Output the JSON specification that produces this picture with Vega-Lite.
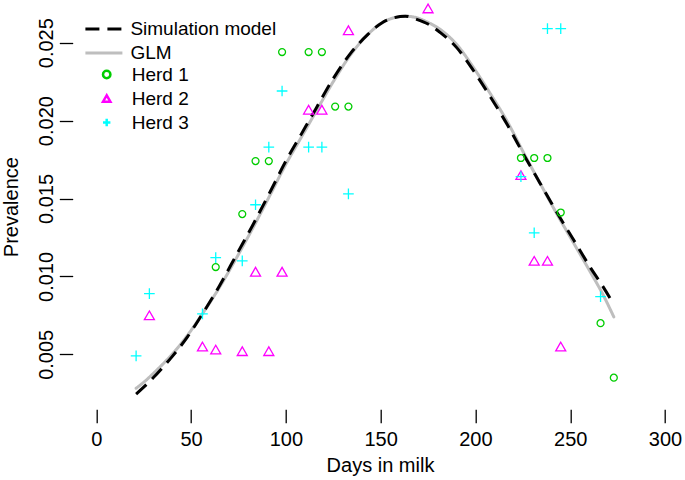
{
  "$schema": "https://vega.github.io/schema/vega-lite/v6.json",
  "width": 612.3,
  "height": 405.3,
  "autosize": {"type": "none"},
  "padding": {"left": 72.7, "top": 4, "right": 0, "bottom": 70.7},
  "background": "white",
  "config": {"view": {"stroke": null}, "font": "Liberation Sans"},
  "datasets": {
    "curves": [
      {"model": "GLM", "dim": 21, "prev": 0.00282},
      {"model": "GLM", "dim": 25, "prev": 0.0032},
      {"model": "GLM", "dim": 30, "prev": 0.00376},
      {"model": "GLM", "dim": 35, "prev": 0.00436},
      {"model": "GLM", "dim": 40, "prev": 0.005},
      {"model": "GLM", "dim": 48, "prev": 0.0062},
      {"model": "GLM", "dim": 56, "prev": 0.0076},
      {"model": "GLM", "dim": 65, "prev": 0.0093},
      {"model": "GLM", "dim": 74, "prev": 0.0112},
      {"model": "GLM", "dim": 83, "prev": 0.0132},
      {"model": "GLM", "dim": 92, "prev": 0.0153},
      {"model": "GLM", "dim": 100, "prev": 0.0172},
      {"model": "GLM", "dim": 108, "prev": 0.0189},
      {"model": "GLM", "dim": 116, "prev": 0.0206},
      {"model": "GLM", "dim": 125, "prev": 0.0225},
      {"model": "GLM", "dim": 134, "prev": 0.0242},
      {"model": "GLM", "dim": 143, "prev": 0.0255},
      {"model": "GLM", "dim": 151, "prev": 0.0263},
      {"model": "GLM", "dim": 157, "prev": 0.0266},
      {"model": "GLM", "dim": 163, "prev": 0.0267},
      {"model": "GLM", "dim": 169, "prev": 0.0266},
      {"model": "GLM", "dim": 175, "prev": 0.0263},
      {"model": "GLM", "dim": 182, "prev": 0.0258},
      {"model": "GLM", "dim": 190, "prev": 0.0249},
      {"model": "GLM", "dim": 199, "prev": 0.0234},
      {"model": "GLM", "dim": 208, "prev": 0.0217},
      {"model": "GLM", "dim": 217, "prev": 0.0199},
      {"model": "GLM", "dim": 226, "prev": 0.0178},
      {"model": "GLM", "dim": 234, "prev": 0.016},
      {"model": "GLM", "dim": 243, "prev": 0.014},
      {"model": "GLM", "dim": 252, "prev": 0.0121},
      {"model": "GLM", "dim": 261, "prev": 0.0102},
      {"model": "GLM", "dim": 267, "prev": 0.0089},
      {"model": "GLM", "dim": 273, "prev": 0.0074},
      {"model": "Simulation model", "dim": 21, "prev": 0.00245},
      {"model": "Simulation model", "dim": 25, "prev": 0.00289},
      {"model": "Simulation model", "dim": 30, "prev": 0.00349},
      {"model": "Simulation model", "dim": 35, "prev": 0.00415},
      {"model": "Simulation model", "dim": 40, "prev": 0.00485},
      {"model": "Simulation model", "dim": 48, "prev": 0.0061},
      {"model": "Simulation model", "dim": 56, "prev": 0.0076},
      {"model": "Simulation model", "dim": 65, "prev": 0.0094},
      {"model": "Simulation model", "dim": 74, "prev": 0.0114},
      {"model": "Simulation model", "dim": 83, "prev": 0.0134},
      {"model": "Simulation model", "dim": 92, "prev": 0.0155},
      {"model": "Simulation model", "dim": 100, "prev": 0.0174},
      {"model": "Simulation model", "dim": 108, "prev": 0.0191},
      {"model": "Simulation model", "dim": 116, "prev": 0.0208},
      {"model": "Simulation model", "dim": 125, "prev": 0.0227},
      {"model": "Simulation model", "dim": 134, "prev": 0.0243},
      {"model": "Simulation model", "dim": 143, "prev": 0.0255},
      {"model": "Simulation model", "dim": 151, "prev": 0.0263},
      {"model": "Simulation model", "dim": 157, "prev": 0.0266},
      {"model": "Simulation model", "dim": 163, "prev": 0.0267},
      {"model": "Simulation model", "dim": 169, "prev": 0.0265},
      {"model": "Simulation model", "dim": 175, "prev": 0.0262},
      {"model": "Simulation model", "dim": 182, "prev": 0.0256},
      {"model": "Simulation model", "dim": 190, "prev": 0.0247},
      {"model": "Simulation model", "dim": 199, "prev": 0.0232},
      {"model": "Simulation model", "dim": 208, "prev": 0.0215},
      {"model": "Simulation model", "dim": 217, "prev": 0.0197},
      {"model": "Simulation model", "dim": 226, "prev": 0.0177},
      {"model": "Simulation model", "dim": 234, "prev": 0.016},
      {"model": "Simulation model", "dim": 243, "prev": 0.0141},
      {"model": "Simulation model", "dim": 252, "prev": 0.0123},
      {"model": "Simulation model", "dim": 261, "prev": 0.0105},
      {"model": "Simulation model", "dim": 267, "prev": 0.0094},
      {"model": "Simulation model", "dim": 273, "prev": 0.0082}
    ],
    "herds": [
      {"herd": "Herd 1", "dim": 63, "prev": 0.0106},
      {"herd": "Herd 1", "dim": 77, "prev": 0.014},
      {"herd": "Herd 1", "dim": 84, "prev": 0.0174},
      {"herd": "Herd 1", "dim": 91, "prev": 0.0174},
      {"herd": "Herd 1", "dim": 98, "prev": 0.0244},
      {"herd": "Herd 1", "dim": 112, "prev": 0.0244},
      {"herd": "Herd 1", "dim": 119, "prev": 0.0244},
      {"herd": "Herd 1", "dim": 126, "prev": 0.0209},
      {"herd": "Herd 1", "dim": 133, "prev": 0.0209},
      {"herd": "Herd 1", "dim": 224, "prev": 0.0176},
      {"herd": "Herd 1", "dim": 231, "prev": 0.0176},
      {"herd": "Herd 1", "dim": 238, "prev": 0.0176},
      {"herd": "Herd 1", "dim": 245, "prev": 0.0141},
      {"herd": "Herd 1", "dim": 266, "prev": 0.007},
      {"herd": "Herd 1", "dim": 273, "prev": 0.0035},
      {"herd": "Herd 2", "dim": 28, "prev": 0.0075},
      {"herd": "Herd 2", "dim": 56, "prev": 0.0055},
      {"herd": "Herd 2", "dim": 63, "prev": 0.0053},
      {"herd": "Herd 2", "dim": 77, "prev": 0.0052},
      {"herd": "Herd 2", "dim": 84, "prev": 0.0103},
      {"herd": "Herd 2", "dim": 91, "prev": 0.0052},
      {"herd": "Herd 2", "dim": 98, "prev": 0.0103},
      {"herd": "Herd 2", "dim": 112, "prev": 0.0207},
      {"herd": "Herd 2", "dim": 119, "prev": 0.0207},
      {"herd": "Herd 2", "dim": 133, "prev": 0.0258},
      {"herd": "Herd 2", "dim": 175, "prev": 0.0272},
      {"herd": "Herd 2", "dim": 224, "prev": 0.0165},
      {"herd": "Herd 2", "dim": 231, "prev": 0.011},
      {"herd": "Herd 2", "dim": 238, "prev": 0.011},
      {"herd": "Herd 2", "dim": 245, "prev": 0.0055},
      {"herd": "Herd 3", "dim": 21, "prev": 0.0049},
      {"herd": "Herd 3", "dim": 28, "prev": 0.0089},
      {"herd": "Herd 3", "dim": 56, "prev": 0.0076},
      {"herd": "Herd 3", "dim": 63, "prev": 0.0112},
      {"herd": "Herd 3", "dim": 77, "prev": 0.011},
      {"herd": "Herd 3", "dim": 84, "prev": 0.0146},
      {"herd": "Herd 3", "dim": 91, "prev": 0.0183},
      {"herd": "Herd 3", "dim": 98, "prev": 0.0219},
      {"herd": "Herd 3", "dim": 112, "prev": 0.0183},
      {"herd": "Herd 3", "dim": 119, "prev": 0.0183},
      {"herd": "Herd 3", "dim": 133, "prev": 0.0153},
      {"herd": "Herd 3", "dim": 224, "prev": 0.0164},
      {"herd": "Herd 3", "dim": 231, "prev": 0.0128},
      {"herd": "Herd 3", "dim": 238, "prev": 0.0259},
      {"herd": "Herd 3", "dim": 245, "prev": 0.0259},
      {"herd": "Herd 3", "dim": 266, "prev": 0.0087}
    ]
  },
  "layer": [
    {
      "data": {"name": "curves"},
      "transform": [{"filter": "datum.model === 'GLM'"}],
      "mark": {"type": "line", "strokeWidth": 3, "strokeCap": "round", "interpolate": "monotone"},
      "encoding": {
        "x": {
          "field": "dim", "type": "quantitative",
          "scale": {"domain": [-12.45, 310.55], "nice": false, "zero": false},
          "axis": {
            "values": [0, 50, 100, 150, 200, 250, 300],
            "domain": false, "grid": false,
            "tickSize": 13.4, "tickWidth": 1.3, "tickColor": "black",
            "labelFontSize": 20, "labelColor": "black", "labelPadding": 6.5,
            "labelFlush": false, "labelOverlap": false,
            "title": "Days in milk", "titleFontSize": 20, "titleFontWeight": "normal",
            "titleColor": "black", "titleBaseline": "alphabetic", "titleY": 62.4, "titleX": 307.3
          }
        },
        "y": {
          "field": "prev", "type": "quantitative",
          "scale": {"domain": [0.00147, 0.027484], "nice": false, "zero": false},
          "axis": {
            "values": [0.005, 0.01, 0.015, 0.02, 0.025], "format": ".3f",
            "domain": false, "grid": false,
            "tickSize": 13.4, "tickWidth": 1.3, "tickColor": "black",
            "labelFontSize": 20, "labelColor": "black",
            "labelAngle": 270, "labelAlign": "center", "labelBaseline": "alphabetic",
            "labelPadding": 7, "labelFlush": false, "labelOverlap": false,
            "title": "Prevalence", "titleFontSize": 20, "titleFontWeight": "normal",
            "titleColor": "black", "titleAngle": 270, "titleAlign": "center",
            "titleBaseline": "alphabetic", "titleX": -55.2, "titleY": 202.65
          }
        },
        "color": {
          "field": "model", "type": "nominal",
          "scale": {"domain": ["Simulation model", "GLM"], "range": ["black", "#BEBEBE"]},
          "legend": {
            "orient": "none", "legendX": 11.2, "legendY": 15.35, "title": null,
            "symbolType": "stroke", "symbolSize": 1369, "symbolStrokeWidth": 3,
            "labelFontSize": 19, "labelColor": "black", "labelOffset": 6.5,
            "clipHeight": 19.3, "rowPadding": 4, "padding": 0
          }
        },
        "strokeDash": {
          "field": "model", "type": "nominal",
          "scale": {"domain": ["Simulation model", "GLM"], "range": [[14, 8], [1, 0]]},
          "legend": {
            "orient": "none", "legendX": 11.2, "legendY": 15.35, "title": null,
            "symbolType": "stroke", "symbolSize": 1369, "symbolStrokeWidth": 3,
            "labelFontSize": 19, "labelColor": "black", "labelOffset": 6.5,
            "clipHeight": 19.3, "rowPadding": 4, "padding": 0
          }
        }
      }
    },
    {
      "data": {"name": "curves"},
      "transform": [{"filter": "datum.model === 'Simulation model'"}],
      "mark": {"type": "line", "strokeWidth": 3, "strokeCap": "butt", "interpolate": "monotone"},
      "encoding": {
        "x": {"field": "dim", "type": "quantitative"},
        "y": {"field": "prev", "type": "quantitative"},
        "color": {"field": "model", "type": "nominal"},
        "strokeDash": {"field": "model", "type": "nominal"}
      }
    },
    {
      "data": {"name": "herds"},
      "transform": [{"filter": "datum.herd === 'Herd 1'"}],
      "mark": {"type": "point", "filled": false, "strokeWidth": 1.3, "opacity": 1, "size": 48},
      "encoding": {
        "x": {"field": "dim", "type": "quantitative"},
        "y": {"field": "prev", "type": "quantitative"},
        "shape": {
          "field": "herd", "type": "nominal",
          "scale": {"domain": ["Herd 1", "Herd 2", "Herd 3"], "range": ["circle", "triangle-up", "M-1,0L1,0M0,-1L0,1"]},
          "legend": {
            "orient": "none", "legendX": 24.5, "legendY": 61, "title": null,
            "symbolSize": 55, "symbolStrokeWidth": 2.5,
            "labelFontSize": 19, "labelColor": "black", "labelOffset": 15.5,
            "rowPadding": 4, "padding": 0
          }
        },
        "stroke": {
          "field": "herd", "type": "nominal",
          "scale": {"domain": ["Herd 1", "Herd 2", "Herd 3"], "range": ["#00CD00", "#FF00FF", "#00FFFF"]},
          "legend": {
            "orient": "none", "legendX": 24.5, "legendY": 61, "title": null,
            "symbolSize": 55, "symbolStrokeWidth": 2.5,
            "labelFontSize": 19, "labelColor": "black", "labelOffset": 15.5,
            "rowPadding": 4, "padding": 0
          }
        }
      }
    },
    {
      "data": {"name": "herds"},
      "transform": [{"filter": "datum.herd === 'Herd 2'"}],
      "mark": {"type": "point", "filled": false, "strokeWidth": 1.3, "opacity": 1, "size": 100},
      "encoding": {
        "x": {"field": "dim", "type": "quantitative"},
        "y": {"field": "prev", "type": "quantitative"},
        "shape": {"field": "herd", "type": "nominal"},
        "stroke": {"field": "herd", "type": "nominal"}
      }
    },
    {
      "data": {"name": "herds"},
      "transform": [{"filter": "datum.herd === 'Herd 3'"}],
      "mark": {"type": "point", "filled": false, "strokeWidth": 1.3, "opacity": 1, "size": 114},
      "encoding": {
        "x": {"field": "dim", "type": "quantitative"},
        "y": {"field": "prev", "type": "quantitative"},
        "shape": {"field": "herd", "type": "nominal"},
        "stroke": {"field": "herd", "type": "nominal"}
      }
    },
    {
      "mark": {"type": "rule", "color": "black", "strokeWidth": 1.3},
      "encoding": {"x": {"datum": 0}, "x2": {"datum": 300}, "y": {"datum": 0.00147}}
    },
    {
      "mark": {"type": "rule", "color": "black", "strokeWidth": 1.3},
      "encoding": {"x": {"datum": -12.45}, "y": {"datum": 0.005}, "y2": {"datum": 0.025}}
    }
  ]
}
